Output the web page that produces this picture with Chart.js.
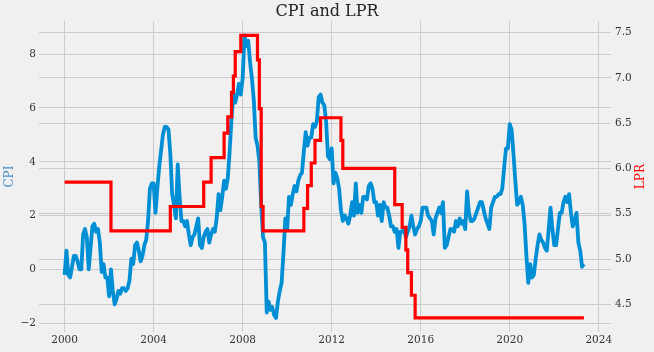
<!DOCTYPE html>
<html>
<head>
<meta charset="utf-8">
<title>CPI and LPR</title>
<script src="https://cdn.jsdelivr.net/npm/chart.js@4.4.1/dist/chart.umd.min.js"></script>
<style>
    html, body { margin: 0; padding: 0; background: #f0f0f0; }
    #chart { display: block; }
</style>
</head>
<body>
<canvas id="chart" width="654" height="352"></canvas>
<script>
// monthly CPI (yoy %), starting Jan 2000
const cpiStart = '2000-01';
const cpiValues = [
    -0.2, 0.7, -0.2, -0.3, 0.1, 0.5, 0.5, 0.3, 0.0, 0.0, 1.3, 1.5,     // 2000
    1.2, 0.0, 0.8, 1.6, 1.7, 1.4, 1.5, 1.0, -0.1, 0.2, -0.3, -0.3,     // 2001
    -1.0, 0.0, -0.8, -1.3, -1.1, -0.8, -0.9, -0.7, -0.7, -0.8, -0.7, -0.4, // 2002
    0.4, 0.2, 0.9, 1.0, 0.7, 0.3, 0.5, 0.9, 1.1, 1.8, 3.0, 3.2,        // 2003
    3.2, 2.1, 3.0, 3.8, 4.4, 5.0, 5.3, 5.3, 5.2, 4.3, 2.8, 2.4,        // 2004
    1.9, 3.9, 2.7, 1.8, 1.8, 1.6, 1.8, 1.3, 0.9, 1.2, 1.3, 1.6,        // 2005
    1.9, 0.9, 0.8, 1.2, 1.4, 1.5, 1.0, 1.3, 1.5, 1.4, 1.9, 2.8,        // 2006
    2.2, 2.7, 3.3, 3.0, 3.4, 4.4, 5.6, 6.5, 6.2, 6.5, 6.9, 6.5,        // 2007
    7.1, 8.7, 8.3, 8.5, 7.7, 7.1, 6.3, 4.9, 4.6, 4.0, 2.4, 1.2,        // 2008
    1.0, -1.6, -1.2, -1.5, -1.4, -1.7, -1.8, -1.2, -0.8, -0.5, 0.6, 1.9, // 2009
    1.5, 2.7, 2.4, 2.8, 3.1, 2.9, 3.3, 3.5, 3.6, 4.4, 5.1, 4.6,        // 2010
    4.9, 4.9, 5.4, 5.3, 5.5, 6.4, 6.5, 6.2, 6.1, 5.5, 4.2, 4.1,        // 2011
    4.5, 3.2, 3.6, 3.4, 3.0, 2.2, 1.8, 2.0, 1.9, 1.7, 2.0, 2.5,        // 2012
    2.0, 3.2, 2.1, 2.4, 2.1, 2.7, 2.7, 2.6, 3.1, 3.2, 3.0, 2.5,        // 2013
    2.5, 2.0, 2.4, 1.8, 2.5, 2.3, 2.3, 2.0, 1.6, 1.6, 1.4, 1.5,        // 2014
    0.8, 1.4, 1.4, 1.5, 1.2, 1.4, 1.6, 2.0, 1.6, 1.3, 1.5, 1.6,        // 2015
    1.8, 2.3, 2.3, 2.3, 2.0, 1.9, 1.8, 1.3, 1.9, 2.1, 2.3, 2.1,        // 2016
    2.5, 0.8, 0.9, 1.2, 1.5, 1.5, 1.4, 1.8, 1.6, 1.9, 1.7, 1.8,        // 2017
    1.5, 2.9, 2.1, 1.8, 1.8, 1.9, 2.1, 2.3, 2.5, 2.5, 2.2, 1.9,        // 2018
    1.7, 1.5, 2.3, 2.5, 2.7, 2.7, 2.8, 2.8, 3.0, 3.8, 4.5, 4.5,        // 2019
    5.4, 5.2, 4.3, 3.3, 2.4, 2.5, 2.7, 2.4, 1.7, 0.5, -0.5, 0.2,       // 2020
    -0.3, -0.2, 0.4, 0.9, 1.3, 1.1, 1.0, 0.8, 0.7, 1.5, 2.3, 1.5,      // 2021
    0.9, 0.9, 1.5, 2.1, 2.1, 2.5, 2.7, 2.5, 2.8, 2.1, 1.6, 1.8,        // 2022
    2.1, 1.0, 0.7, 0.1, 0.2                                            // 2023
];

// loan prime rate (%) - month it changed and new level
const lprMonths = [
    '2000-01', '2002-02', '2004-10', '2006-04', '2006-08', '2007-03', '2007-05',
    '2007-07', '2007-08', '2007-09', '2007-12', '2008-09', '2008-10', '2008-11',
    '2008-12', '2010-10', '2010-12', '2011-02', '2011-04', '2011-07', '2012-06',
    '2012-07', '2014-11', '2015-03', '2015-05', '2015-06', '2015-08', '2015-10',
    '2023-05'
];
const lprValues = [
    5.85, 5.31, 5.58, 5.85, 6.12, 6.39, 6.57,
    6.84, 7.02, 7.29, 7.47, 7.20, 6.66, 5.58,
    5.31, 5.56, 5.81, 6.06, 6.31, 6.56, 6.31,
    6.00, 5.60, 5.35, 5.10, 4.85, 4.60, 4.35,
    4.35
];

const yearTicks = [2000, 2004, 2008, 2012, 2016, 2020, 2024];
const cpiTicks = [-2, 0, 2, 4, 6, 8];
const lprTicks = [4.5, 5.0, 5.5, 6.0, 6.5, 7.0, 7.5];

const serif = "'DejaVu Serif', serif";
const tickColor = '#333333';
const gridColor = '#cbcbcb';

function monthToYear(m) {
    const [y, mo] = m.split('-').map(Number);
    return y + (mo - 1) / 12;
}

const cpiX0 = monthToYear(cpiStart);
const cpiPoints = cpiValues.map((v, i) => ({ x: cpiX0 + i / 12, y: v }));
const lprPoints = lprMonths.map((m, i) => ({ x: monthToYear(m), y: lprValues[i] }));

// matplotlib puts the y labels bottom-to-top on both sides
const axisTitles = {
    id: 'axisTitles',
    afterDraw(chart) {
        const { ctx, chartArea } = chart;
        const midY = (chartArea.top + chartArea.bottom) / 2;
        ctx.save();
        ctx.font = `12px ${serif}`;
        ctx.textAlign = 'center';
        ctx.textBaseline = 'middle';
        [['CPI', 10, '#4a90c8'], ['LPR', 641, '#ff0000']].forEach(([text, x, color]) => {
            ctx.save();
            ctx.translate(x, midY);
            ctx.rotate(-Math.PI / 2);
            ctx.fillStyle = color;
            ctx.fillText(text, 0, 0);
            ctx.restore();
        });
        ctx.restore();
    }
};

const ctx = document.getElementById('chart').getContext('2d');
new Chart(ctx, {
    type: 'line',
    data: {
        datasets: [{
            label: 'LPR',
            data: lprPoints,
            yAxisID: 'y2',
            borderColor: '#ff0000',
            borderWidth: 3.2,
            stepped: 'before',   // hold the level until the next change
            pointRadius: 0,
            order: 0
        }, {
            label: 'CPI',
            data: cpiPoints,
            yAxisID: 'y',
            borderColor: '#008fd5',
            borderWidth: 3.8,
            borderJoinStyle: 'round',
            pointRadius: 0,
            tension: 0,
            order: 1
        }]
    },
    options: {
        responsive: false,
        animation: false,
        layout: { padding: 0 },
        plugins: {
            legend: { display: false },
            tooltip: { enabled: false },
            title: {
                display: true,
                text: 'CPI and LPR',
                color: '#222222',
                font: { family: serif, size: 16, weight: 'normal' },
                padding: { top: 2, bottom: 0 }
            }
        },
        scales: {
            x: {
                type: 'linear',
                min: 1998.85,
                max: 2024.55,
                grid: { color: gridColor, lineWidth: 1, drawTicks: false },
                border: { display: false },
                ticks: {
                    color: tickColor,
                    font: { family: serif, size: 10.5 },
                    padding: 2,
                    maxRotation: 0,
                    callback: v => String(v)
                },
                afterBuildTicks: s => { s.ticks = yearTicks.map(v => ({ value: v })); },
                afterFit: s => { s.height = 20; }
            },
            y: {
                position: 'left',
                min: -2.325,
                max: 9.225,
                grid: { color: gridColor, lineWidth: 1, drawTicks: false },
                border: { display: false },
                ticks: {
                    color: tickColor,
                    font: { family: serif, size: 10.5 },
                    padding: 3,
                    callback: v => (v < 0 ? '\u2212' + Math.abs(v) : String(v))
                },
                afterBuildTicks: s => { s.ticks = cpiTicks.map(v => ({ value: v })); },
                afterFit: s => { s.width = 39; }
            },
            y2: {
                position: 'right',
                min: 4.194,
                max: 7.626,
                grid: { color: gridColor, lineWidth: 1, drawTicks: false },
                border: { display: false },
                ticks: {
                    color: tickColor,
                    font: { family: serif, size: 10.5 },
                    padding: 4,
                    callback: v => v.toFixed(1)
                },
                afterBuildTicks: s => { s.ticks = lprTicks.map(v => ({ value: v })); },
                afterFit: s => { s.width = 43; }
            }
        }
    },
    plugins: [axisTitles]
});
</script>
</body>
</html>
